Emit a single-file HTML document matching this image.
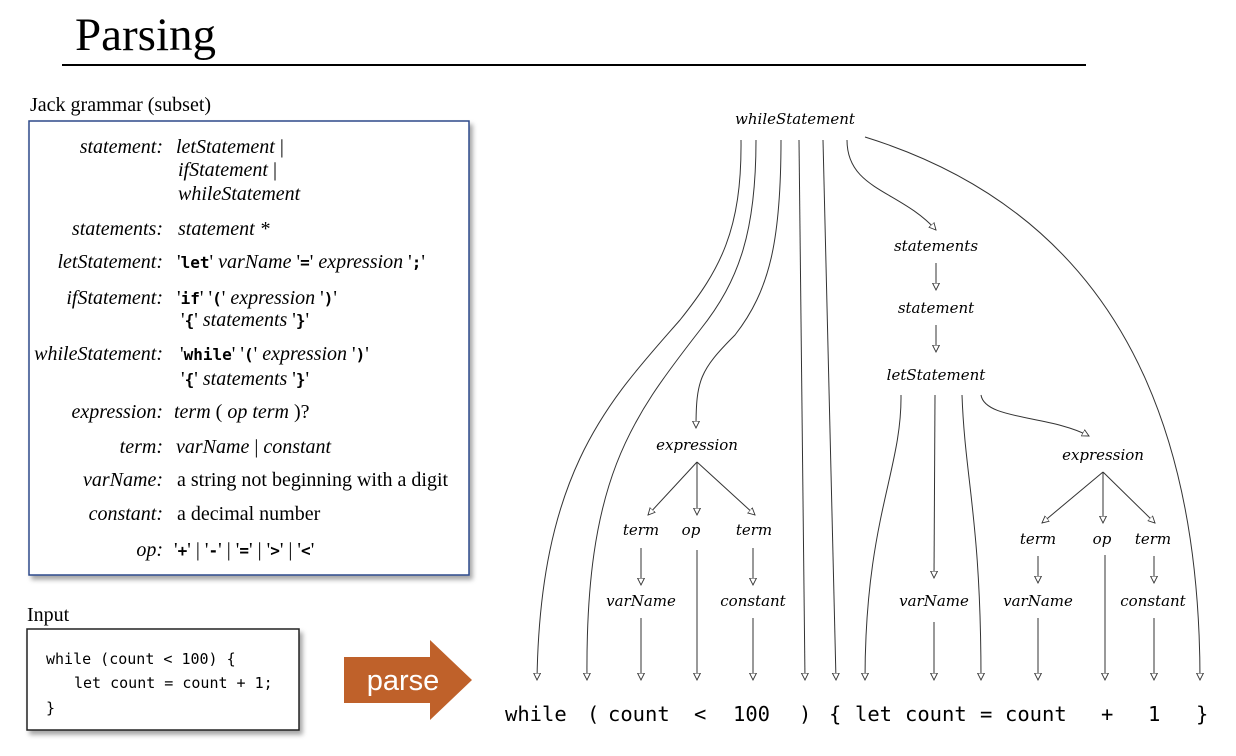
<!DOCTYPE html>
<html><head><meta charset="utf-8"><style>
body{margin:0;background:#fff;width:1236px;height:756px;overflow:hidden}
svg{display:block}
.g{font-family:"Liberation Serif",serif;font-size:20px;font-style:italic}
.r{font-family:"Liberation Serif",serif;font-size:20px}
.k{font-family:"DejaVu Sans Mono",monospace;font-weight:bold;font-style:normal;font-size:16px}
.n{font-family:"DejaVu Serif",serif;font-style:italic;font-size:15px}
.t{font-family:"DejaVu Sans Mono","Liberation Mono",monospace;font-size:20.5px}
.c{font-family:"DejaVu Sans Mono","Liberation Mono",monospace;font-size:15px}
</style></head><body>
<svg width="1236" height="756" viewBox="0 0 1236 756" xmlns="http://www.w3.org/2000/svg">
<defs>
<marker id="a" markerWidth="8" markerHeight="10" refX="7" refY="4" orient="auto" markerUnits="userSpaceOnUse">
<path d="M0,0.5 L7,4 L0,7.5 Z" fill="#fff" stroke="#333" stroke-width="0.9"/></marker>
<filter id="sh" x="-5%" y="-5%" width="115%" height="115%"><feDropShadow dx="3" dy="4" stdDeviation="2.5" flood-color="#000" flood-opacity="0.35"/></filter>
</defs>
<text x="75" y="50" font-family="Liberation Serif,serif" font-size="47">Parsing</text>
<line x1="62" y1="65" x2="1086" y2="65" stroke="#000" stroke-width="2"/>

<text x="30" y="111" class="r" font-size="23">Jack grammar (subset)</text>
<rect x="29" y="121" width="440" height="454" fill="#fff" stroke="#2f4a8a" stroke-width="1.5" filter="url(#sh)"/>
<g class="g" text-anchor="end">
<text x="163" y="153">statement:</text>
<text x="163" y="235">statements:</text>
<text x="163" y="268">letStatement:</text>
<text x="163" y="304">ifStatement:</text>
<text x="163" y="360">whileStatement:</text>
<text x="163" y="418">expression:</text>
<text x="163" y="453">term:</text>
<text x="163" y="486">varName:</text>
<text x="163" y="520">constant:</text>
<text x="163" y="556">op:</text>
</g>
<g class="g">
<text x="176" y="153">letStatement <tspan font-style="normal">|</tspan></text>
<text x="178" y="176">ifStatement <tspan font-style="normal">|</tspan></text>
<text x="178" y="200">whileStatement</text>
<text x="178" y="235">statement *</text>
<text x="177" y="268"><tspan font-style="normal">'</tspan><tspan class="k">let</tspan><tspan font-style="normal">'</tspan>  varName <tspan font-style="normal">'</tspan><tspan class="k">=</tspan><tspan font-style="normal">'</tspan>  expression <tspan font-style="normal">'</tspan><tspan class="k">;</tspan><tspan font-style="normal">'</tspan></text>
<text x="177" y="304"><tspan font-style="normal">'</tspan><tspan class="k">if</tspan><tspan font-style="normal">'  '</tspan><tspan class="k">(</tspan><tspan font-style="normal">'</tspan> expression <tspan font-style="normal">'</tspan><tspan class="k">)</tspan><tspan font-style="normal">'</tspan></text>
<text x="181" y="326"><tspan font-style="normal">'</tspan><tspan class="k">{</tspan><tspan font-style="normal">'</tspan> statements <tspan font-style="normal">'</tspan><tspan class="k">}</tspan><tspan font-style="normal">'</tspan></text>
<text x="180" y="360"><tspan font-style="normal">'</tspan><tspan class="k">while</tspan><tspan font-style="normal">'  '</tspan><tspan class="k">(</tspan><tspan font-style="normal">'</tspan> expression <tspan font-style="normal">'</tspan><tspan class="k">)</tspan><tspan font-style="normal">'</tspan></text>
<text x="181" y="385"><tspan font-style="normal">'</tspan><tspan class="k">{</tspan><tspan font-style="normal">'</tspan> statements <tspan font-style="normal">'</tspan><tspan class="k">}</tspan><tspan font-style="normal">'</tspan></text>
<text x="174" y="418">term <tspan font-style="normal">(</tspan> op term <tspan font-style="normal">)?</tspan></text>
<text x="176" y="453">varName <tspan font-style="normal">|</tspan> constant</text>
</g>
<text x="177" y="486" class="r">a string not beginning with a digit</text>
<text x="177" y="520" class="r">a decimal number</text>
<text x="174" y="556" class="r"><tspan>'</tspan><tspan class="k">+</tspan>' | '<tspan class="k">-</tspan>' | '<tspan class="k">=</tspan>' | '<tspan class="k">&gt;</tspan>' | '<tspan class="k">&lt;</tspan>'</text>

<text x="27" y="621" class="r" font-size="23">Input</text>
<rect x="27" y="629" width="272" height="101" fill="#fff" stroke="#222" stroke-width="1.5" filter="url(#sh)"/>
<g class="c"><text x="46" y="664">while (count &lt; 100) {</text>
<text x="74" y="688">let count = count + 1;</text>
<text x="46" y="713">}</text></g>

<path d="M344,657 H430 V640 L472,680 L430,720 V703 H344 Z" fill="#bf612a"/>
<text x="403" y="690" text-anchor="middle" font-family="Liberation Sans,sans-serif" font-size="29" fill="#fff">parse</text>

<g class="n" text-anchor="middle">
<text x="795" y="124">whileStatement</text>
<text x="936" y="251">statements</text>
<text x="936" y="313">statement</text>
<text x="936" y="380">letStatement</text>
<text x="697" y="450">expression</text>
<text x="1103" y="460">expression</text>
<text x="641" y="535">term</text><text x="691" y="535">op</text><text x="754" y="535">term</text>
<text x="641" y="606">varName</text><text x="753" y="606">constant</text>
<text x="934" y="606">varName</text>
<text x="1038" y="544">term</text><text x="1102" y="544">op</text><text x="1153" y="544">term</text>
<text x="1038" y="606">varName</text><text x="1153" y="606">constant</text>
</g>

<g fill="none" stroke="#333" stroke-width="1" marker-end="url(#a)">
<path d="M741,140 C742,230 720,270 680,320 C610,400 540,470 537,680"/>
<path d="M756,140 C756,230 740,280 700,330 C630,420 585,480 587,680"/>
<path d="M781,140 C781,240 770,290 735,335 C700,370 696,380 696,428"/>
<path d="M799,140 L805,680"/>
<path d="M823,140 L836,680"/>
<path d="M847,140 C847,190 900,190 936,230"/>
<path d="M865,137 C1100,210 1200,400 1200,680"/>
<path d="M936,263 V290"/>
<path d="M936,325 V352"/>
<path d="M901,395 C902,470 865,520 865,680"/>
<path d="M935,395 L934,578"/>
<path d="M962,395 C965,480 981,520 981,680"/>
<path d="M981,395 C985,420 1050,415 1089,436"/>
<path d="M697,462 L648,515"/>
<path d="M697,462 V515"/>
<path d="M697,462 L755,515"/>
<path d="M641,548 V585"/>
<path d="M753,548 V585"/>
<path d="M641,618 V680"/>
<path d="M697,550 V680"/>
<path d="M753,618 V680"/>
<path d="M934,622 V680"/>
<path d="M1103,472 L1042,523"/>
<path d="M1103,472 V523"/>
<path d="M1103,472 L1155,523"/>
<path d="M1038,556 V583"/>
<path d="M1154,556 V583"/>
<path d="M1038,618 V680"/>
<path d="M1105,555 V680"/>
<path d="M1154,618 V680"/>
</g>

<g class="t">
<text x="505" y="721">while</text>
<text x="587" y="721">(</text>
<text x="608" y="721">count</text>
<text x="694" y="721">&lt;</text>
<text x="733" y="721">100</text>
<text x="799" y="721">)</text>
<text x="829" y="721">{</text>
<text x="855" y="721">let</text>
<text x="905" y="721">count</text>
<text x="980" y="721">=</text>
<text x="1005" y="721">count</text>
<text x="1101" y="721">+</text>
<text x="1148" y="721">1</text>
<text x="1196" y="721">}</text>
</g>
</svg>
</body></html>
